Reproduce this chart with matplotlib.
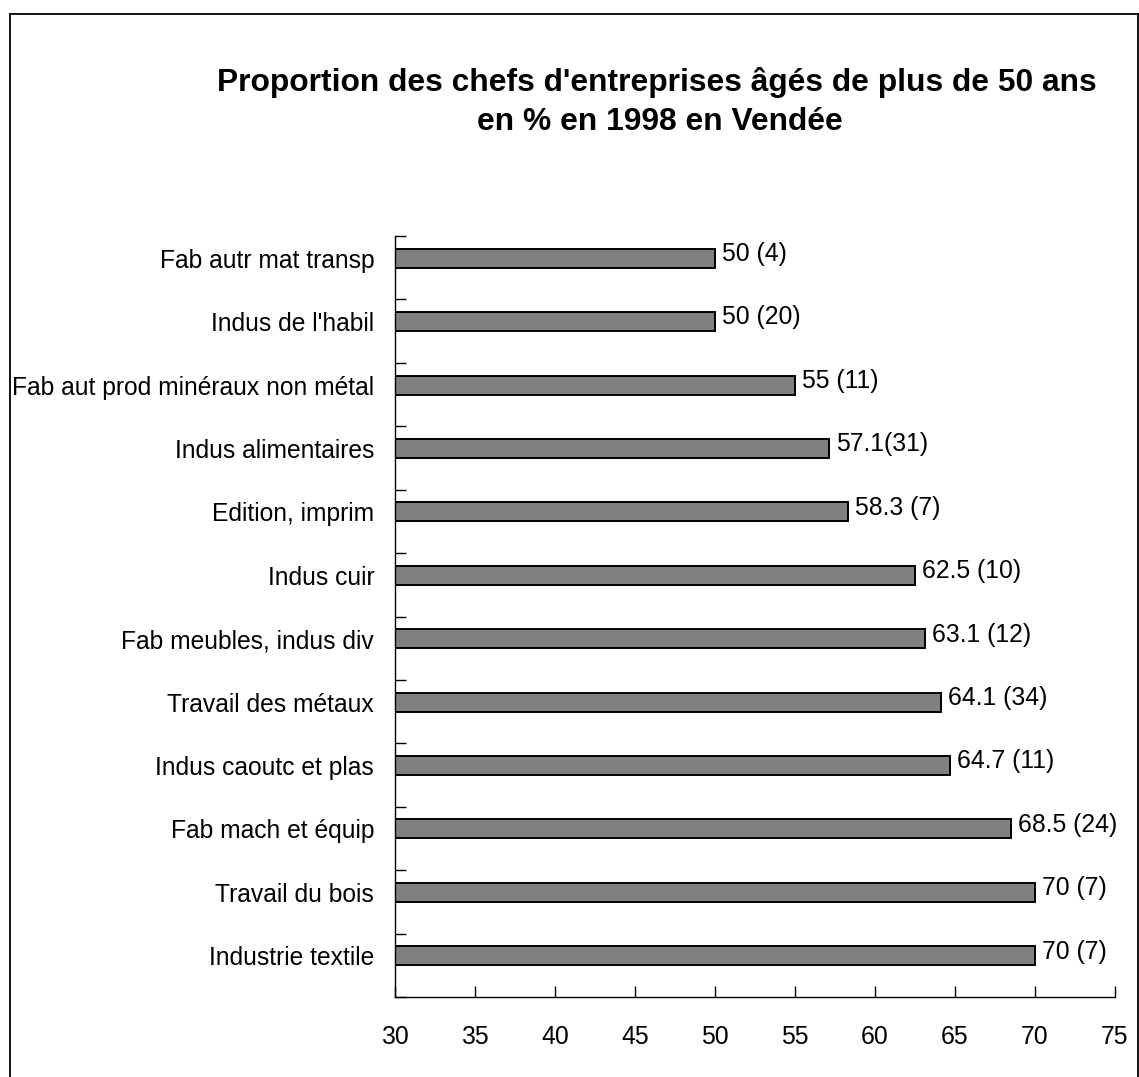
import matplotlib
matplotlib.use("Agg")
import matplotlib.pyplot as plt
from matplotlib.lines import Line2D
import numpy as np

plt.rcParams['font.family'] = ['Liberation Sans', 'DejaVu Sans']

categories = ["Fab autr mat transp", "Indus de l'habil", "Fab aut prod minéraux non métal",
              "Indus alimentaires", "Edition, imprim", "Indus cuir", "Fab meubles, indus div",
              "Travail des métaux", "Indus caoutc et plas", "Fab mach et équip",
              "Travail du bois", "Industrie textile"]
values = [50, 50, 55, 57.1, 58.3, 62.5, 63.1, 64.1, 64.7, 68.5, 70, 70]
labels = ["50 (4)", "50 (20)", "55 (11)", "57.1(31)", "58.3 (7)", "62.5 (10)", "63.1 (12)",
          "64.1 (34)", "64.7 (11)", "68.5 (24)", "70 (7)", "70 (7)"]
xticks = [30, 35, 40, 45, 50, 55, 60, 65, 70, 75]

fig = plt.figure(figsize=(11.39, 10.77), dpi=100)
ax = fig.add_axes([395/1139, 1-997/1077, (1115-395)/1139, (997-236)/1077])

n = len(categories)
pos = np.arange(n) - 0.15
ax.barh(pos, [v - 30 for v in values], left=30, height=0.3, color='#808080',
        edgecolor='black', linewidth=1.4)
for p, v, l in zip(pos, values, labels):
    ax.annotate(l, (v, p), xytext=(5, 3), textcoords='offset points',
                va='center', ha='left', fontsize=17.8)

ax.set_xlim(30, 75)
ax.set_ylim(n - 0.5, -0.5)
ax.set_xticks(xticks)
ax.set_xticklabels([str(t) for t in xticks], fontsize=17.8)
ax.tick_params(axis='x', direction='in', length=8, width=1, pad=20)
ax.set_yticks(pos)
ax.set_yticklabels(categories, fontsize=17.7)
ax.tick_params(axis='y', which='major', length=0, pad=15)
ax.set_yticks(np.arange(n + 1) - 0.5, minor=True)
ax.tick_params(axis='y', which='minor', direction='in', length=8, width=1)
for s in ['top', 'right']:
    ax.spines[s].set_visible(False)
for s in ['left', 'bottom']:
    ax.spines[s].set_linewidth(1)

fig.text(657/1139, 1-83/1077, "Proportion des chefs d'entreprises âgés de plus de 50 ans",
         ha='center', va='center', fontsize=22.9, fontweight='bold')
fig.text(660/1139, 1-122/1077, "en % en 1998 en Vendée",
         ha='center', va='center', fontsize=22.9, fontweight='bold')

# outer frame
x0, x1 = 9.5/1139, 1137.5/1139
yt = 1-13.5/1077
fig.add_artist(Line2D([x0, x1], [yt, yt], color='black', lw=1.3, transform=fig.transFigure))
fig.add_artist(Line2D([x0, x0], [yt, 0], color='black', lw=1.3, transform=fig.transFigure))
fig.add_artist(Line2D([x1, x1], [yt, 0], color='black', lw=1.3, transform=fig.transFigure))

fig.savefig("out.png", dpi=100)
